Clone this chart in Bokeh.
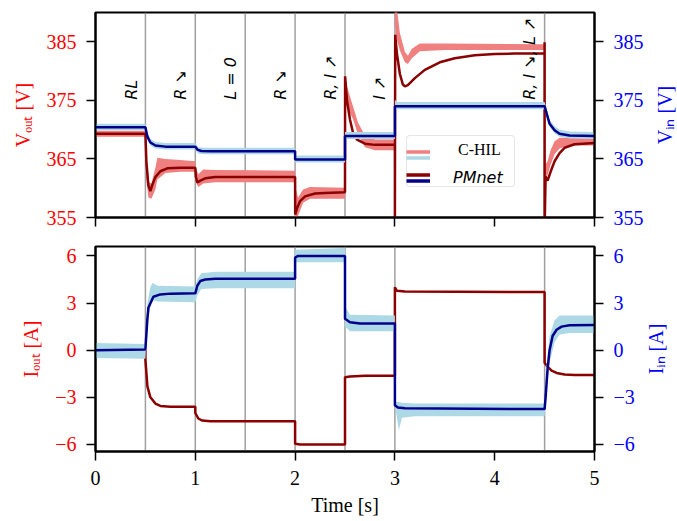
from bokeh.plotting import figure
from bokeh.models import (Range1d, LinearAxis, FixedTicker, Span, Label, Legend,
                          LegendItem, CustomJSTickFormatter, BoxAnnotation)
from bokeh.layouts import column
from bokeh.embed import file_html
from bokeh.resources import INLINE

# ---------------- data ----------------
events = [0.5, 1.0, 1.5, 2.0, 2.5, 3.0, 4.5]
event_labels = ["RL", "R ↘", "L = 0", "R ↘", "R, I ↗", "I ↗", "R, I ↘, L ↗"]
event_label_t = [0.36, 0.85, 1.35, 1.85, 2.35, 2.85, 4.35]
event_label_v = 375.1

x_ticks = [0, 1, 2, 3, 4, 5]
v_ticks = [355, 365, 375, 385]
i_ticks = [-6, -3, 0, 3, 6]

# PMnet output voltage (t, V)
vout_pm_t = [0.0, 0.5, 0.51, 0.53, 0.55, 0.57, 0.60, 0.65, 0.72, 0.85, 1.0, 1.005, 1.02, 1.05, 1.1, 1.2,
             2.0, 2.001, 2.02, 2.05, 2.1, 2.2, 2.3, 2.5, 2.501, 2.52, 2.55, 2.58, 2.62, 2.7, 2.8,
             3.0, 3.0, 3.003, 3.02, 3.05, 3.08, 3.1, 3.13, 3.2, 3.3, 3.45, 3.6, 3.8, 4.0, 4.2,
             4.5, 4.5, 4.5, 4.51, 4.53, 4.56, 4.6, 4.65, 4.7, 4.8, 5.0]
vout_pm_v = [369.3, 369.3, 364.5, 360.5, 359.5, 360.6, 361.9, 362.9, 363.4, 363.5, 363.5, 362.0, 361.0, 361.3, 361.7, 361.9,
             361.9, 355.5, 356.6, 357.8, 358.6, 359.1, 359.2, 359.3, 379.1, 375.0, 371.7, 369.5, 368.3, 367.6, 367.4,
             367.4, 353.0, 386.2, 383.0, 379.5, 377.7, 377.4, 377.6, 378.8, 380.2, 381.5, 382.2, 382.7, 382.9, 383.0,
             383.0, 384.9, 353.0, 362.0, 361.3, 362.8, 364.6, 366.0, 366.9, 367.5, 367.7]

# PMnet input voltage (t, V)
vin_pm_t = [0.0, 0.5, 0.52, 0.55, 0.6, 0.7, 1.0, 1.02, 1.06, 1.15, 2.0, 2.0, 2.5, 2.5, 3.0, 3.0,
            4.5, 4.52, 4.55, 4.6, 4.65, 4.75, 5.0]
vin_pm_v = [370.4, 370.4, 368.8, 367.8, 367.3, 367.1, 367.1, 366.6, 366.35, 366.3, 366.3, 364.9, 364.9, 368.9, 368.9, 374.0,
            374.0, 372.8, 371.0, 369.9, 369.3, 369.0, 368.9]

# C-HIL output voltage band (t, low, high)
vout_hil_t = [0.0, 0.5, 0.505, 0.53, 0.56, 0.6, 0.62, 0.7, 0.85, 1.0, 1.005, 1.03, 1.08, 1.2,
              2.0, 2.005, 2.03, 2.08, 2.15, 2.5, 2.505, 2.53, 2.58, 2.63, 2.7, 2.8,
              3.0, 3.0, 3.01, 3.05, 3.1, 3.13, 3.17, 3.25, 3.5,
              4.5, 4.505, 4.53, 4.56, 4.6, 4.65, 4.75, 5.0]
vout_hil_lo = [368.8, 368.8, 362.0, 358.4, 358.2, 359.8, 361.5, 362.6, 362.8, 362.8, 361.0, 360.2, 360.8, 361.0,
               361.0, 355.0, 355.3, 357.5, 358.2, 358.2, 375.0, 373.5, 371.8, 369.2, 367.0, 366.5,
               366.5, 388.0, 386.0, 383.5, 381.5, 381.2, 382.2, 383.4, 383.6,
               383.6, 361.5, 362.2, 364.0, 365.8, 366.8, 367.3, 367.3]
vout_hil_hi = [369.8, 369.8, 366.0, 361.0, 360.8, 363.5, 365.2, 365.0, 364.8, 364.6, 363.5, 362.4, 363.2, 363.1,
               363.0, 360.0, 358.4, 359.8, 360.2, 360.1, 378.6, 376.8, 374.0, 371.2, 369.0, 368.3,
               368.3, 392.0, 392.0, 386.5, 383.3, 382.6, 383.8, 384.7, 384.7,
               384.6, 364.0, 364.6, 366.5, 368.0, 368.6, 368.6, 368.5]

# C-HIL input voltage band (t, low, high)
vin_hil_t = [0.0, 0.5, 0.52, 0.55, 0.6, 0.7, 1.0, 1.03, 1.1, 2.0, 2.0, 2.5, 2.5, 3.0, 3.0, 3.02,
             4.5, 4.52, 4.55, 4.6, 4.65, 4.75, 5.0]
vin_hil_lo = [369.9, 369.9, 368.3, 367.3, 366.8, 366.6, 366.6, 365.9, 365.8, 365.8, 364.4, 364.4, 368.4, 368.4, 373.5, 373.5,
              373.5, 372.3, 370.5, 369.4, 368.8, 368.5, 368.4]
vin_hil_hi = [371.0, 371.0, 369.5, 368.4, 367.9, 367.7, 367.7, 367.0, 366.9, 366.9, 365.6, 365.6, 369.6, 369.6, 375.1, 374.7,
              374.7, 373.5, 371.7, 370.6, 370.0, 369.7, 369.6]

# PMnet output current (t, A)
iout_pm_t = [0.0, 0.5, 0.5, 0.52, 0.55, 0.6, 0.65, 0.75, 1.0, 1.0, 1.03, 1.07, 1.15, 2.0, 2.0, 2.05,
             2.5, 2.5, 2.55, 2.7, 3.0, 3.0, 3.02, 3.1, 4.5, 4.5, 4.53, 4.57, 4.62, 4.7, 4.8, 5.0]
iout_pm_v = [0.0, 0.0, -0.6, -2.3, -3.0, -3.4, -3.55, -3.6, -3.6, -4.0, -4.35, -4.48, -4.53, -4.53, -5.95, -6.0,
             -6.0, -1.72, -1.68, -1.63, -1.62, 4.0, 3.78, 3.74, 3.7, -0.8, -1.05, -1.3, -1.45, -1.55, -1.58, -1.58]

# PMnet input current (t, A)
iin_pm_t = [0.0, 0.5, 0.52, 0.53, 0.58, 0.65, 0.75, 1.0, 1.02, 1.05, 1.1, 1.2, 2.0, 2.0, 2.03,
            2.5, 2.5, 2.55, 2.65, 3.0, 3.0, 3.03, 3.1, 4.5, 4.51, 4.53, 4.55, 4.58, 4.62, 4.67, 4.75, 5.0]
iin_pm_v = [0.0, 0.05, 2.0, 2.7, 3.4, 3.55, 3.6, 3.62, 4.1, 4.4, 4.5, 4.55, 4.55, 5.9, 6.0,
            6.0, 2.0, 1.78, 1.7, 1.7, -3.5, -3.65, -3.7, -3.75, -3.0, -1.2, 0.0, 0.9, 1.3, 1.5, 1.58, 1.6]

# C-HIL input current band (t, low, high)
iin_hil_t = [0.0, 0.5, 0.52, 0.55, 0.57, 0.62, 1.0, 1.02, 1.06, 1.2, 2.0, 2.0, 2.5, 2.5, 2.55,
             3.0, 3.0, 3.01, 3.04, 3.07, 3.2, 4.5, 4.52, 4.55, 4.6, 4.65, 4.75, 5.0]
iin_hil_lo = [-0.5, -0.55, 1.6, 2.8, 3.2, 3.1, 3.05, 3.5, 3.9, 3.95, 3.95, 5.6, 5.6, 1.5, 1.2,
              1.2, -3.5, -3.9, -5.1, -4.3, -4.2, -4.2, -2.5, -0.8, 0.5, 1.0, 1.1, 1.1]
iin_hil_hi = [0.45, 0.4, 3.0, 4.0, 4.3, 4.1, 4.05, 4.5, 4.9, 5.0, 5.0, 6.4, 6.5, 2.8, 2.25,
              2.2, 1.5, -3.3, -3.3, -3.35, -3.4, -3.4, -1.0, 0.9, 1.9, 2.2, 2.2, 2.2]

# ---------------- styling ----------------
LIGHT_RED = "#f08080"
DARK_RED = "#8b0000"
LIGHT_BLUE = "#add8e6"
DARK_BLUE = "#00008b"
SERIF = "Liberation Serif"
EVENT_COLOR = "#808080"

FW = 499
FH = 205
BL, BR = 95, 82
GAP = 28
xr = Range1d(0, 5)


def style_axis(ax, color):
    ax.axis_line_width = 2
    ax.axis_line_color = "black"
    ax.major_tick_line_width = 1.5
    ax.major_tick_line_color = "black"
    ax.major_tick_out = 9
    ax.major_tick_in = 0
    ax.minor_tick_line_color = None
    ax.major_label_text_font = SERIF
    ax.major_label_text_font_size = "20px"
    ax.major_label_text_color = color
    ax.major_label_standoff = 10
    ax.axis_label_text_font = SERIF
    ax.axis_label_text_font_size = "20px"
    ax.axis_label_text_font_style = "normal"
    ax.axis_label_text_color = color
    ax.axis_label_standoff = 10


minus_fmt = "return tick < 0 ? '\u2212' + Math.abs(tick) : String(tick);"


def add_events(p):
    for e in events:
        p.add_layout(Span(location=e, dimension="height", line_color=EVENT_COLOR,
                          line_width=1.5, line_alpha=0.75, level="underlay"))


def add_right_title(p, text):
    # right-hand axis title placed in the right side panel, reading bottom-to-top
    p.add_layout(Label(x=18, y=FH / 2, x_units="screen", y_units="screen",
                       text=text, angle=90, angle_units="deg",
                       text_font=SERIF, text_font_size="20px", text_color="blue",
                       text_align="center", text_baseline="middle"), "right")


def base_fig(top, bottom, yr):
    p = figure(frame_width=FW, frame_height=FH, x_range=xr, y_range=yr,
               output_backend="svg", toolbar_location=None,
               min_border_left=BL, min_border_right=BR,
               min_border_top=top, min_border_bottom=bottom)
    p.grid.visible = False
    p.outline_line_color = "black"
    p.outline_line_width = 2
    p.background_fill_color = "white"
    p.border_fill_color = "white"
    return p


# ---------------- top panel: voltages ----------------
p1 = base_fig(12, GAP, Range1d(355, 390))
style_axis(p1.xaxis[0], "black")
p1.xaxis[0].ticker = FixedTicker(ticks=x_ticks)
p1.xaxis[0].formatter = CustomJSTickFormatter(code="return '';")
p1.xaxis[0].major_label_standoff = 0
style_axis(p1.yaxis[0], "red")
p1.yaxis[0].ticker = FixedTicker(ticks=v_ticks)
p1.yaxis[0].axis_label = "Vₒᵤₜ [V]"
ax_r1 = LinearAxis(ticker=FixedTicker(ticks=v_ticks))
style_axis(ax_r1, "blue")
p1.add_layout(ax_r1, "right")
add_right_title(p1, "Vᵢₙ [V]")
add_events(p1)
# event lines continue through the gap below the top panel
for e in events:
    p1.add_layout(BoxAnnotation(left=e, right=e, top=0, bottom=-GAP,
                                top_units="screen", bottom_units="screen",
                                fill_alpha=0, line_color=EVENT_COLOR, line_width=1.5,
                                line_alpha=0.75, level="underlay"))

p1.varea(x=vout_hil_t, y1=vout_hil_lo, y2=vout_hil_hi, fill_color=LIGHT_RED, fill_alpha=1)
p1.line(x=vout_pm_t, y=vout_pm_v, line_color=DARK_RED, line_width=2.5)
p1.varea(x=vin_hil_t, y1=vin_hil_lo, y2=vin_hil_hi, fill_color=LIGHT_BLUE, fill_alpha=1)
p1.line(x=vin_pm_t, y=vin_pm_v, line_color=DARK_BLUE, line_width=2.5)

for lt, txt in zip(event_label_t, event_labels):
    p1.add_layout(Label(x=lt, y=event_label_v, text=txt, angle=90, angle_units="deg",
                        text_font="DejaVu Sans", text_font_style="italic", text_color="black",
                        text_font_size="16px", text_align="left", text_baseline="middle"))

# legend: a box with the texts, plus two transparent legends drawing the stacked handle lines
nan = float("nan")
pr_none = p1.line(x=[0], y=[nan], line_alpha=0)
pr_lr = p1.line(x=[0], y=[nan], line_color=LIGHT_RED, line_width=3.5)
pr_dr = p1.line(x=[0], y=[nan], line_color=DARK_RED, line_width=3.5)
pr_lb = p1.line(x=[0], y=[nan], line_color=LIGHT_BLUE, line_width=3.5)
pr_db = p1.line(x=[0], y=[nan], line_color=DARK_BLUE, line_width=3.5)

LEG_X, LEG_Y = 311, 30
common = dict(padding=4, spacing=4, glyph_width=24, glyph_height=19, label_height=19,
              label_standoff=23, label_width=52, label_text_font_size="16px",
              label_text_line_height=1.0, label_text_color="black")
extra = {}
if "border_radius" in Legend.properties():
    extra["border_radius"] = 4
leg_main = Legend(items=[LegendItem(label="C-HIL", renderers=[pr_none]),
                         LegendItem(label=" ", renderers=[pr_none])],
                  location=(LEG_X, LEG_Y), label_text_font=SERIF,
                  border_line_color="#cccccc", border_line_width=1.5,
                  background_fill_color="white", background_fill_alpha=0.85,
                  **common, **extra)
leg_pm = Legend(items=[LegendItem(label="PMnet", renderers=[pr_none])],
                location=(LEG_X, LEG_Y), label_text_font="DejaVu Sans",
                label_text_font_style="italic", border_line_color=None,
                background_fill_alpha=0, **common)
leg_red = Legend(items=[LegendItem(label=" ", renderers=[pr_lr]),
                        LegendItem(label=" ", renderers=[pr_dr])],
                 location=(LEG_X, LEG_Y + 3), border_line_color=None,
                 background_fill_alpha=0, **common)
leg_blue = Legend(items=[LegendItem(label=" ", renderers=[pr_lb]),
                         LegendItem(label=" ", renderers=[pr_db])],
                  location=(LEG_X, LEG_Y - 3), border_line_color=None,
                  background_fill_alpha=0, **common)
for lg in (leg_main, leg_pm, leg_red, leg_blue):
    p1.add_layout(lg, "center")

# ---------------- bottom panel: currents ----------------
p2 = base_fig(1, 60, Range1d(-6.45, 6.6))
style_axis(p2.xaxis[0], "black")
p2.xaxis[0].ticker = FixedTicker(ticks=x_ticks)
p2.xaxis[0].axis_label = "Time [s]"
p2.xaxis[0].major_label_standoff = 10
p2.xaxis[0].axis_label_standoff = 6
style_axis(p2.yaxis[0], "red")
p2.yaxis[0].ticker = FixedTicker(ticks=i_ticks)
p2.yaxis[0].formatter = CustomJSTickFormatter(code=minus_fmt)
p2.yaxis[0].axis_label = "Iₒᵤₜ [A]"
ax_r2 = LinearAxis(ticker=FixedTicker(ticks=i_ticks),
                   formatter=CustomJSTickFormatter(code=minus_fmt))
style_axis(ax_r2, "blue")
p2.add_layout(ax_r2, "right")
add_right_title(p2, "Iᵢₙ [A]")
add_events(p2)

p2.line(x=iout_pm_t, y=iout_pm_v, line_color=DARK_RED, line_width=2.5)
p2.varea(x=iin_hil_t, y1=iin_hil_lo, y2=iin_hil_hi, fill_color=LIGHT_BLUE, fill_alpha=1)
p2.line(x=iin_pm_t, y=iin_pm_v, line_color=DARK_BLUE, line_width=2.5)

layout = column(p1, p2, spacing=0)
open("out.html", "w").write(file_html(layout, INLINE))
